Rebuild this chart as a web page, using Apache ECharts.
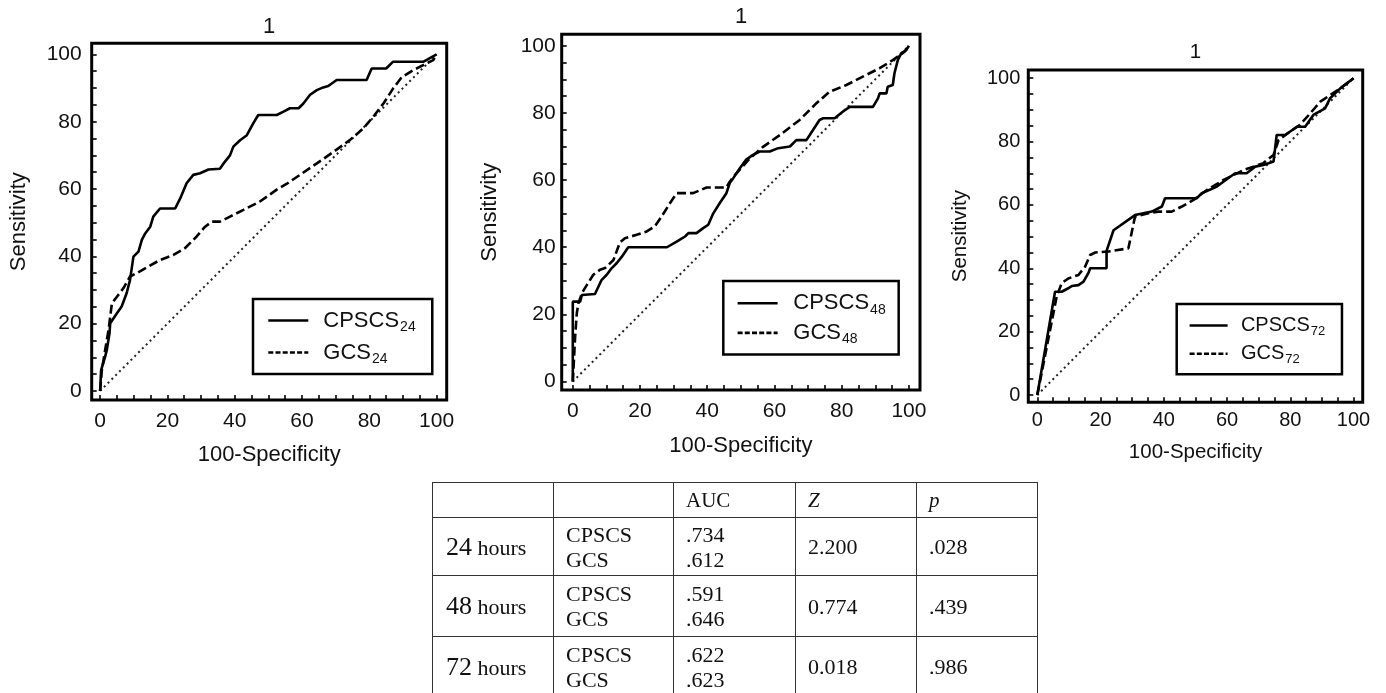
<!DOCTYPE html>
<html><head><meta charset="utf-8">
<script src="https://cdn.jsdelivr.net/npm/echarts@6/dist/echarts.min.js"></script>
<style>
html,body{margin:0;padding:0;width:1386px;height:693px;overflow:hidden;background:#fff;}
#chart{position:absolute;left:0;top:0;width:1386px;height:693px;}
#tbl{position:absolute;left:432px;top:482px;border-collapse:collapse;table-layout:fixed;font-family:"Liberation Serif","Times New Roman",serif;color:#111;z-index:2;}
#tbl td{border:1.5px solid #333;padding:0 0 0 12px;vertical-align:middle;font-size:22px;line-height:25px;white-space:nowrap;overflow:hidden;}
#tbl td.first{padding-left:13px;}
#tbl tr.head td{font-size:21px;}
</style></head><body>
<div id="chart"></div>
<table id="tbl"></table>
<script>
// ---- data ----
const cpscs24 = [[0,0],[0.3,6.2],[1.5,10.2],[2,12.2],[2.8,17.2],[3,20.1],[5,23.1],[6.4,25.1],[7.9,29.1],[8.9,33],[9.9,39.9],[11.4,41.4],[12.4,44.9],[13.4,46.8],[14.9,48.8],[15.8,51.8],[17.8,54.2],[22.3,54.2],[23.8,57.2],[25.7,61.7],[27.7,64.2],[29.7,64.7],[32.2,65.8],[35.6,66],[37,68],[38.6,70],[39.6,72.6],[41.6,74.5],[43.6,76],[45.5,79.5],[47,82],[52.5,82],[54.5,83],[56.4,84],[59,84],[60.4,85.4],[62.4,88],[64.4,89.4],[66.3,90.2],[67.8,90.6],[70.3,92.4],[79.2,92.4],[80.7,95.8],[85,95.8],[87,97.8],[96,97.8],[100,100]];
const gcs24 = [[0,0],[0.5,6],[1.5,12.2],[2.5,18.1],[3.5,26],[5,28],[6.9,30.5],[8.9,34],[10.9,35],[14.4,37],[17.8,38.9],[21.8,40.4],[25.2,42.4],[28.7,45.9],[31.2,48.8],[33.2,50.3],[35.6,50.3],[38.6,51.8],[42.6,53.8],[47.5,56.3],[52.5,59.8],[55.4,61.5],[59.4,64.2],[64.4,67.6],[69.3,71],[74.3,74.6],[78.2,78],[81.2,81.5],[84.2,85.4],[87.1,89.9],[89.6,93.2],[93,95.3],[96,96.8],[99,98.3],[100,100]];
const cpscs48 = [[0,0],[0,23.8],[2.2,23.8],[2.7,25.8],[6.6,26.1],[8.1,29.3],[8.6,30.3],[10.1,31.8],[11.6,33.8],[13.1,35.3],[14.6,37.2],[16.5,40],[28,40],[30.9,41.7],[33.4,43.2],[34.4,44.2],[36.8,44.2],[38.8,45.7],[40.3,46.7],[41.8,50.1],[43.7,53.1],[45.7,56.1],[46.7,59.1],[47.7,60.5],[49.7,63.5],[51.5,66],[53.6,67.5],[55.6,68.5],[58.6,68.5],[61.1,69.5],[64.6,70],[66.5,71.9],[69.5,71.9],[70.5,73.4],[73.4,77.9],[74.5,78.4],[77.9,78.4],[80.4,80.4],[82.4,81.8],[89.3,81.8],[90.8,84.3],[91.3,85.8],[93.3,85.8],[93.7,87.8],[95.2,88.3],[95.7,91.8],[96.7,95.7],[97.7,97.7],[99.2,98.7],[100,100]];
const gcs48 = [[0,0],[0.7,13.4],[1.2,20.4],[1.7,23.4],[2.7,26.3],[4.2,28.8],[6.1,31.8],[8.1,33.3],[9.6,33.8],[12.1,36.2],[14,41.4],[15.5,42.7],[19,43.7],[22,44.7],[24.4,46.2],[26.4,49.1],[28.9,53.1],[30.9,56.1],[35.8,56.1],[39.8,57.8],[45.7,57.8],[46.7,59.5],[48.2,61.5],[50.5,64],[52.7,66.5],[56.6,69.9],[61.6,73.4],[67.5,77.9],[72.5,82.9],[76.4,86.3],[81.4,88.3],[86.3,90.8],[91.3,93.3],[95.2,95.7],[98.7,98.2],[100,100]];
const cpscs72 = [[0,0],[5.6,32.6],[7.7,32.6],[9.8,33.7],[10.9,34.4],[13,34.7],[14.6,35.8],[15.1,36.3],[16.2,38.6],[16.7,40],[21.9,40],[21.9,45.5],[24.1,52],[30.9,56.8],[36.2,57.9],[39.4,59.5],[40.4,62.1],[50.4,62.1],[52,63.7],[56.8,65.8],[61,68.9],[62.6,70],[66.2,70],[68.9,72.1],[71.5,72.6],[74.7,73.7],[75.7,82.1],[78.4,82.1],[82.1,84.7],[84.7,84.7],[87.3,88.4],[91,90.5],[92.6,93.7],[95.8,96.8],[100,100]];
const gcs72 = [[0,0],[6.1,31],[7.7,35.3],[9.8,36.8],[13,37.9],[15.1,40.5],[16.7,44.2],[18.3,45],[22.5,45.3],[28.8,46.3],[30.9,56.3],[35.1,57.4],[38.3,57.9],[42.5,57.9],[45.7,59.5],[49.4,61.6],[53.6,64.7],[58.9,67.9],[65.2,71],[71.5,73.2],[74.7,75.8],[76.3,80.5],[80,83.2],[83.1,85.3],[86.3,88.9],[89.5,92.6],[92.6,94.7],[95.8,96.8],[100,100]];
const diagonal = [[0,0],[100,100]];
const panelTitles = ['1','1','1'];
const seriesNames = [['CPSCS24','GCS24'],['CPSCS48','GCS48'],['CPSCS72','GCS72']];
const tickLabelValues = [0,20,40,60,80,100];
const tickMarkValues = [0,5,10,15,20,25,30,35,40,45,50,55,60,65,70,75,80,85,90,95,100];
const xAxisName = '100-Specificity';
const yAxisName = 'Sensitivity';

// table data
const tableHeader = ['', '', 'AUC', 'Z', 'p'];
const periodNumbers = ['24','48','72'];
const periodUnit = 'hours';
const methods = ['CPSCS','GCS'];
const aucValues = [['.734','.612'],['.591','.646'],['.622','.623']];
const zValues = ['2.200','0.774','0.018'];
const pValues = ['.028','.439','.986'];

// ---- layout ----
const FONT = '"Liberation Sans", Arial, Helvetica, sans-serif';
const curveData = [[cpscs24,gcs24],[cpscs48,gcs48],[cpscs72,gcs72]];
const layout = [
  {grid:{left:91.7,top:43.3,width:355,height:356.7}, x:[-2.5,103], y:[-2.7,103.3], title:[269.2,27], fs:21, nfs:22, yLM:10, xLM:11, yNG:61.5, xNG:43.5,
   lg:{left:253,top:299,padding:[8,16.6,8,14],itemGap:5,itemWidth:40,lh:24,fs:22,sfs:14,tp:10,sp:13}},
  {grid:{left:561.7,top:34.3,width:358.3,height:355.7}, x:[-3.3,103.3], y:[-2.5,103.4], title:[741,16.7], fs:21, nfs:22, yLM:6, xLM:11, yNG:61, xNG:44.5,
   lg:{left:723.3,top:281,padding:[8.7,13,8,13],itemGap:2.7,itemWidth:40,lh:24,fs:22,sfs:14,tp:10.7,sp:13}},
  {grid:{left:1028.3,top:70,width:334.4,height:332.3}, x:[-2.85,102.9], y:[-2.3,102.6], title:[1195.5,52], fs:20, nfs:20.5, yLM:8, xLM:8.5, yNG:57.5, xNG:39.5,
   lg:{left:1176.7,top:304,padding:[9,16.7,8,11.6],itemGap:3.3,itemWidth:38,lh:22,fs:20,sfs:13,tp:8.3,sp:12}}
];

const option = {animation:false, backgroundColor:'#fff', title:[], grid:[], xAxis:[], yAxis:[], legend:[], series:[]};
layout.forEach((L,i)=>{
  option.title.push({text:panelTitles[i], left:L.title[0], top:L.title[1], textAlign:'center', textVerticalAlign:'middle', padding:0,
    textStyle:{fontFamily:FONT,fontSize:L.nfs,fontWeight:'normal',color:'#111'}});
  option.grid.push(Object.assign({show:true,borderColor:'#000',borderWidth:3,backgroundColor:'transparent',containLabel:false}, L.grid));
  const common = {
    gridIndex:i, type:'value',
    axisLine:{show:false,onZero:false},
    splitLine:{show:false},
    axisTick:{show:true,inside:true,length:5,customValues:tickMarkValues,lineStyle:{color:'#000',width:1.6}},
    nameLocation:'middle',
    nameTextStyle:{fontFamily:FONT,fontSize:L.nfs,color:'#111'}
  };
  option.xAxis.push(Object.assign({}, common, {position:'bottom',min:L.x[0],max:L.x[1],name:xAxisName,nameGap:L.xNG,
    axisLabel:{customValues:tickLabelValues,fontFamily:FONT,fontSize:L.fs,color:'#111',margin:L.xLM}}));
  option.yAxis.push(Object.assign({}, common, {position:'left',min:L.y[0],max:L.y[1],name:yAxisName,nameGap:L.yNG,nameRotate:90,
    axisLabel:{customValues:tickLabelValues,fontFamily:FONT,fontSize:L.fs,color:'#111',margin:L.yLM}}));
  const names = seriesNames[i];
  option.legend.push({
    orient:'vertical', left:L.lg.left, top:L.lg.top, padding:L.lg.padding, itemGap:L.lg.itemGap,
    itemWidth:L.lg.itemWidth, itemHeight:14, selectedMode:false,
    borderColor:'#000', borderWidth:2.5, backgroundColor:'#fff',
    itemStyle:{color:'transparent',borderWidth:0,opacity:0},
    data:[{name:names[0],lineStyle:{type:'solid',width:2.6,color:'#000'}},
          {name:names[1],lineStyle:{type:[5,2.2],width:2.6,color:'#000'}}],
    formatter: n => n.replace(/^(\D+)(\d+)$/, '{n|$1}{s|$2}'),
    textStyle:{fontFamily:FONT,color:'#111',fontSize:L.lg.fs,
      rich:{n:{fontFamily:FONT,fontSize:L.lg.fs,lineHeight:L.lg.lh,color:'#111',padding:[0,0,0,L.lg.tp]},
            s:{fontFamily:FONT,fontSize:L.lg.sfs,lineHeight:L.lg.lh,color:'#111',padding:[L.lg.sp,0,0,1]}}}
  });
  option.series.push({name:'diagonal',type:'line',xAxisIndex:i,yAxisIndex:i,data:diagonal,symbol:'none',silent:true,z:1,
    lineStyle:{color:'#222',width:2,type:[2,3.4]}});
  option.series.push({name:names[1],type:'line',xAxisIndex:i,yAxisIndex:i,data:curveData[i][1],symbol:'none',z:2,
    color:'#000',lineStyle:{color:'#000',width:2.6,type:[9,4]}});
  option.series.push({name:names[0],type:'line',xAxisIndex:i,yAxisIndex:i,data:curveData[i][0],symbol:'none',z:3,
    color:'#000',lineStyle:{color:'#000',width:2.6,type:'solid'}});
});

const chart = echarts.init(document.getElementById('chart'), null, {renderer:'canvas'});
chart.setOption(option);

// ---- table ----
const colWidths = [121,120,122,121,121];
const rowHeights = [35,58,61,60];
const tbl = document.getElementById('tbl');
const cg = document.createElement('colgroup');
colWidths.forEach(w=>{const c=document.createElement('col'); c.style.width=w+'px'; cg.appendChild(c);});
tbl.appendChild(cg);
const hr = document.createElement('tr'); hr.className='head'; hr.style.height=rowHeights[0]+'px';
tableHeader.forEach((h,j)=>{const td=document.createElement('td'); if(j===0) td.className='first';
  if(h==='Z'||h==='p'){const it=document.createElement('i'); it.textContent=h; td.appendChild(it);} else td.textContent=h;
  hr.appendChild(td);});
tbl.appendChild(hr);
periodNumbers.forEach((p,r)=>{
  const tr=document.createElement('tr'); tr.style.height=rowHeights[r+1]+'px';
  const c0=document.createElement('td'); c0.className='first';
  c0.innerHTML='<span style="font-size:26px">'+p+'</span> <span style="font-size:22px">'+periodUnit+'</span>';
  const c1=document.createElement('td'); c1.innerHTML=methods.join('<br>');
  const c2=document.createElement('td'); c2.innerHTML=aucValues[r].join('<br>');
  const c3=document.createElement('td'); c3.textContent=zValues[r];
  const c4=document.createElement('td'); c4.textContent=pValues[r];
  [c0,c1,c2,c3,c4].forEach(c=>tr.appendChild(c));
  tbl.appendChild(tr);
});
</script></body></html>
